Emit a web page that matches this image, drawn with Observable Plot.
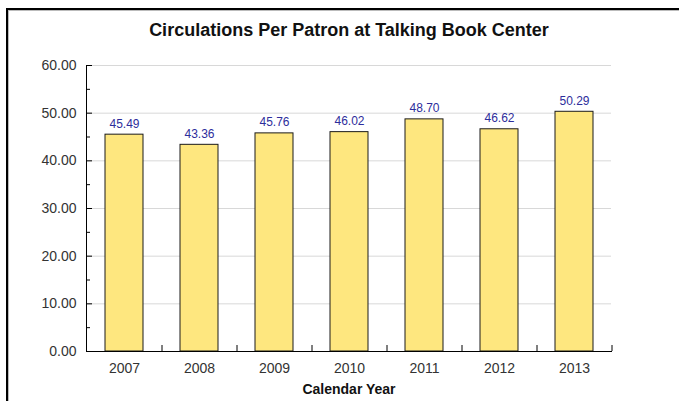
<!DOCTYPE html>
<html>
<head>
<meta charset="utf-8">
<script src="https://cdn.jsdelivr.net/npm/d3@7"></script>
<script src="https://cdn.jsdelivr.net/npm/@observablehq/plot@0.6"></script>
<style>
  html, body { margin: 0; padding: 0; background: #fff; }
  #wrap { position: relative; width: 679px; height: 401px; overflow: hidden; font-family: "Liberation Sans", Arial, sans-serif; }
  #frame { position: absolute; left: 6px; top: 8px; right: -10px; bottom: -10px; border-top: 2px solid #000; border-left: 2px solid #000; box-shadow: inset 1px 1px 0 #bbb; pointer-events: none; }
  #chart { position: absolute; left: 0; top: 0; }
</style>
</head>
<body>
<div id="wrap"><div id="frame"></div><div id="chart"></div></div>
<script>
const title = "Circulations Per Patron at Talking Book Center";
const xLabel = "Calendar Year";
const years = ["2007", "2008", "2009", "2010", "2011", "2012", "2013"];
const values = [45.49, 43.36, 45.76, 46.02, 48.70, 46.62, 50.29];
const yMajorTicks = [0, 10, 20, 30, 40, 50, 60];
const yMinorTicks = [5, 15, 25, 35, 45, 55];

const data = years.map((y, i) => ({year: y, value: values[i]}));

const W = 679, H = 401;
const mL = 86, mR = 68, mT = 65, mB = 50;
const bandW = (W - mL - mR) / years.length;
const plotH = H - mT - mB;

const chart = Plot.plot({
  width: W,
  height: H,
  marginLeft: mL,
  marginRight: mR,
  marginTop: mT,
  marginBottom: mB,
  style: {fontFamily: "'Liberation Sans', Arial, sans-serif", fontSize: "14px", background: "transparent", overflow: "visible"},
  x: {type: "band", domain: years, paddingInner: 0.5, paddingOuter: 0.25, label: null},
  y: {domain: [0, 60], label: null},
  marks: [
    Plot.gridY(yMajorTicks.filter(d => d > 0), {stroke: "#d8d8d8", strokeOpacity: 1}),
    Plot.barY(data, {x: "year", y: "value", fill: "#fee77f", stroke: "#1a1a1a", strokeWidth: 1}),
    Plot.text(data, {x: "year", y: "value", text: d => d.value.toFixed(2), dy: -11, fill: "#2d2d9c", fontSize: 12}),
    Plot.frame({anchor: "left", stroke: "#000"}),
    Plot.frame({anchor: "bottom", stroke: "#000"}),
    Plot.ruleY(yMajorTicks, {y: d => d, stroke: "#000", insetRight: W - mL - mR - 6}),
    Plot.ruleY(yMinorTicks, {y: d => d, stroke: "#000", insetRight: W - mL - mR - 4}),
    Plot.ruleX(years, {x: d => d, dx: bandW / 2, stroke: "#000", insetTop: plotH - 6}),
    Plot.axisY(yMajorTicks, {tickSize: 0, tickPadding: 10, tickFormat: d => d.toFixed(2), fontSize: 14, fill: "#333", label: null}),
    Plot.axisX({tickSize: 0, tickPadding: 12, fontSize: 14, fill: "#333", label: null}),
    Plot.text([title], {frameAnchor: "top", dy: -42, text: d => d, fontSize: 18, fontWeight: "bold", fill: "#111"}),
    Plot.text([xLabel], {frameAnchor: "bottom", dy: 42, text: d => d, fontSize: 14, fontWeight: "bold", fill: "#111"})
  ]
});
document.getElementById("chart").appendChild(chart);
</script>
</body>
</html>
